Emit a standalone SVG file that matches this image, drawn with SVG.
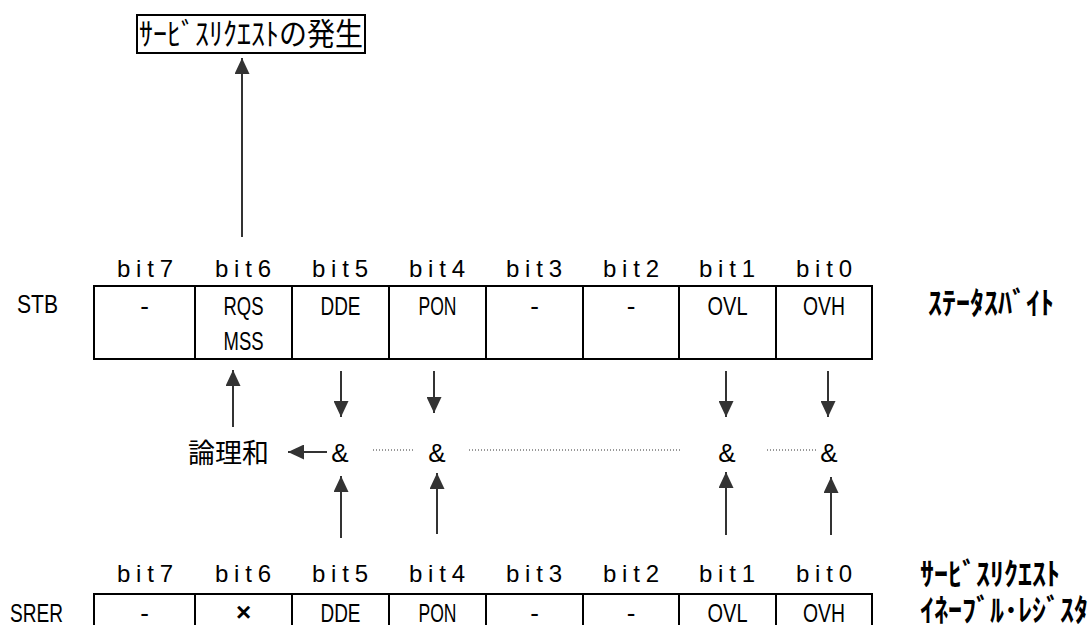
<svg xmlns="http://www.w3.org/2000/svg" width="1091" height="625" viewBox="0 0 1091 625">
<style>
.bg{fill:#fff}
.bit{font-family:"Liberation Sans",Arial,sans-serif;font-size:24px;fill:#000;text-anchor:middle}
.cell{font-family:"Liberation Sans",Arial,sans-serif;font-size:26px;fill:#000;text-anchor:middle}
.lbl{font-family:"Liberation Sans",Arial,sans-serif;font-size:26px;fill:#000}
.kana{font-family:"Noto Sans CJK JP",sans-serif;font-size:28px;fill:#000;font-weight:700}
.kanab{font-family:"Noto Sans CJK JP",sans-serif;font-size:28px;fill:#000;font-weight:400}
.jp{font-family:"Noto Sans CJK JP",sans-serif;font-size:27px;fill:#000}
.amp{font-family:"Liberation Sans",Arial,sans-serif;font-size:26px;fill:#000;text-anchor:middle}
.tbl{fill:none;stroke:#000;stroke-width:2}
.arr{fill:none;stroke:#333;stroke-width:2}
.dot{fill:none;stroke:#333;stroke-width:1;stroke-dasharray:1 2}
</style>
<defs>
<marker id="ah" viewBox="0 0 16 15" markerUnits="userSpaceOnUse" markerWidth="16" markerHeight="15" refX="16" refY="7.5" orient="auto">
<path d="M0,0 L16,7.5 L0,15 z" fill="#333"/>
</marker>
</defs>
<rect class="bg" x="0" y="0" width="1091" height="625"/>

<g id="node-request">
<rect class="tbl" x="137" y="15" width="228" height="38"/>
<text class="kanab" transform="translate(139,45) scale(1,1.1)">ｻｰﾋﾞｽﾘｸｴｽﾄの発生</text>
</g>

<g id="node-stb">
<text class="lbl" x="17" y="313" textLength="41" lengthAdjust="spacingAndGlyphs">STB</text>
<text class="bit" x="145" y="277" textLength="56">bit7</text>
<text class="bit" x="243" y="277" textLength="56">bit6</text>
<text class="bit" x="340" y="277" textLength="56">bit5</text>
<text class="bit" x="437" y="277" textLength="56">bit4</text>
<text class="bit" x="534" y="277" textLength="56">bit3</text>
<text class="bit" x="631" y="277" textLength="56">bit2</text>
<text class="bit" x="727" y="277" textLength="56">bit1</text>
<text class="bit" x="824" y="277" textLength="56">bit0</text>
<rect class="tbl" x="94" y="286" width="778" height="73"/>
<path class="tbl" d="M195,286V359M292,286V359M389,286V359M486,286V359M583,286V359M679,286V359M776,286V359"/>
<text class="cell" x="144.5" y="315">-</text>
<text class="cell" x="243.5" y="315" textLength="40" lengthAdjust="spacingAndGlyphs">RQS</text>
<text class="cell" x="243.5" y="350" textLength="40" lengthAdjust="spacingAndGlyphs">MSS</text>
<text class="cell" x="340.5" y="315" textLength="40" lengthAdjust="spacingAndGlyphs">DDE</text>
<text class="cell" x="437.5" y="315" textLength="38" lengthAdjust="spacingAndGlyphs">PON</text>
<text class="cell" x="534.5" y="315">-</text>
<text class="cell" x="631" y="315">-</text>
<text class="cell" x="727.5" y="315" textLength="40" lengthAdjust="spacingAndGlyphs">OVL</text>
<text class="cell" x="824" y="315" textLength="42" lengthAdjust="spacingAndGlyphs">OVH</text>
<text class="kana" transform="translate(928,314) scale(1,1.1)">ｽﾃｰﾀｽﾊﾞｲﾄ</text>
</g>

<g id="node-or">
<text class="jp" x="188" y="463">論理和</text>
</g>
<g id="node-and5"><text class="amp" x="340" y="462">&amp;</text></g>
<g id="node-and4"><text class="amp" x="437" y="462">&amp;</text></g>
<g id="node-and1"><text class="amp" x="727" y="462">&amp;</text></g>
<g id="node-and0"><text class="amp" x="829" y="462">&amp;</text></g>

<g id="node-srer">
<text class="lbl" x="10" y="622" textLength="53" lengthAdjust="spacingAndGlyphs">SRER</text>
<text class="bit" x="145" y="582" textLength="56">bit7</text>
<text class="bit" x="243" y="582" textLength="56">bit6</text>
<text class="bit" x="340" y="582" textLength="56">bit5</text>
<text class="bit" x="437" y="582" textLength="56">bit4</text>
<text class="bit" x="534" y="582" textLength="56">bit3</text>
<text class="bit" x="631" y="582" textLength="56">bit2</text>
<text class="bit" x="727" y="582" textLength="56">bit1</text>
<text class="bit" x="824" y="582" textLength="56">bit0</text>
<rect class="tbl" x="94" y="594" width="778" height="73"/>
<path class="tbl" d="M195,594V667M292,594V667M389,594V667M486,594V667M583,594V667M679,594V667M776,594V667"/>
<text class="cell" x="144.5" y="622">-</text>
<text class="cell" x="243.5" y="621" font-weight="700">×</text>
<text class="cell" x="340.5" y="622" textLength="40" lengthAdjust="spacingAndGlyphs">DDE</text>
<text class="cell" x="437.5" y="622" textLength="38" lengthAdjust="spacingAndGlyphs">PON</text>
<text class="cell" x="534.5" y="622">-</text>
<text class="cell" x="631" y="622">-</text>
<text class="cell" x="727.5" y="622" textLength="40" lengthAdjust="spacingAndGlyphs">OVL</text>
<text class="cell" x="824" y="622" textLength="42" lengthAdjust="spacingAndGlyphs">OVH</text>
<text class="kana" transform="translate(920,585) scale(1,1.1)">ｻｰﾋﾞｽﾘｸｴｽﾄ</text>
<text class="kana" transform="translate(920,621) scale(1,1.1)">ｲﾈｰﾌﾞﾙ･ﾚｼﾞｽﾀ</text>
</g>

<g id="connectors">
<line class="arr" x1="242" y1="237" x2="242" y2="58" marker-end="url(#ah)"/>
<line class="arr" x1="233" y1="427" x2="233" y2="370" marker-end="url(#ah)"/>
<line class="arr" x1="341" y1="371" x2="341" y2="417" marker-end="url(#ah)"/>
<line class="arr" x1="434" y1="371" x2="434" y2="413" marker-end="url(#ah)"/>
<line class="arr" x1="726" y1="371" x2="726" y2="417" marker-end="url(#ah)"/>
<line class="arr" x1="828" y1="371" x2="828" y2="417" marker-end="url(#ah)"/>
<line class="arr" x1="341" y1="538" x2="341" y2="476" marker-end="url(#ah)"/>
<line class="arr" x1="437" y1="534" x2="437" y2="473" marker-end="url(#ah)"/>
<line class="arr" x1="726" y1="535" x2="726" y2="472" marker-end="url(#ah)"/>
<line class="arr" x1="831" y1="535" x2="831" y2="477" marker-end="url(#ah)"/>
<line class="arr" x1="327" y1="452" x2="288" y2="452" marker-end="url(#ah)"/>
<line class="dot" x1="373" y1="450" x2="415" y2="450"/>
<line class="dot" x1="469" y1="450" x2="680" y2="450"/>
<line class="dot" x1="767" y1="450" x2="816" y2="450"/>
</g>
</svg>
